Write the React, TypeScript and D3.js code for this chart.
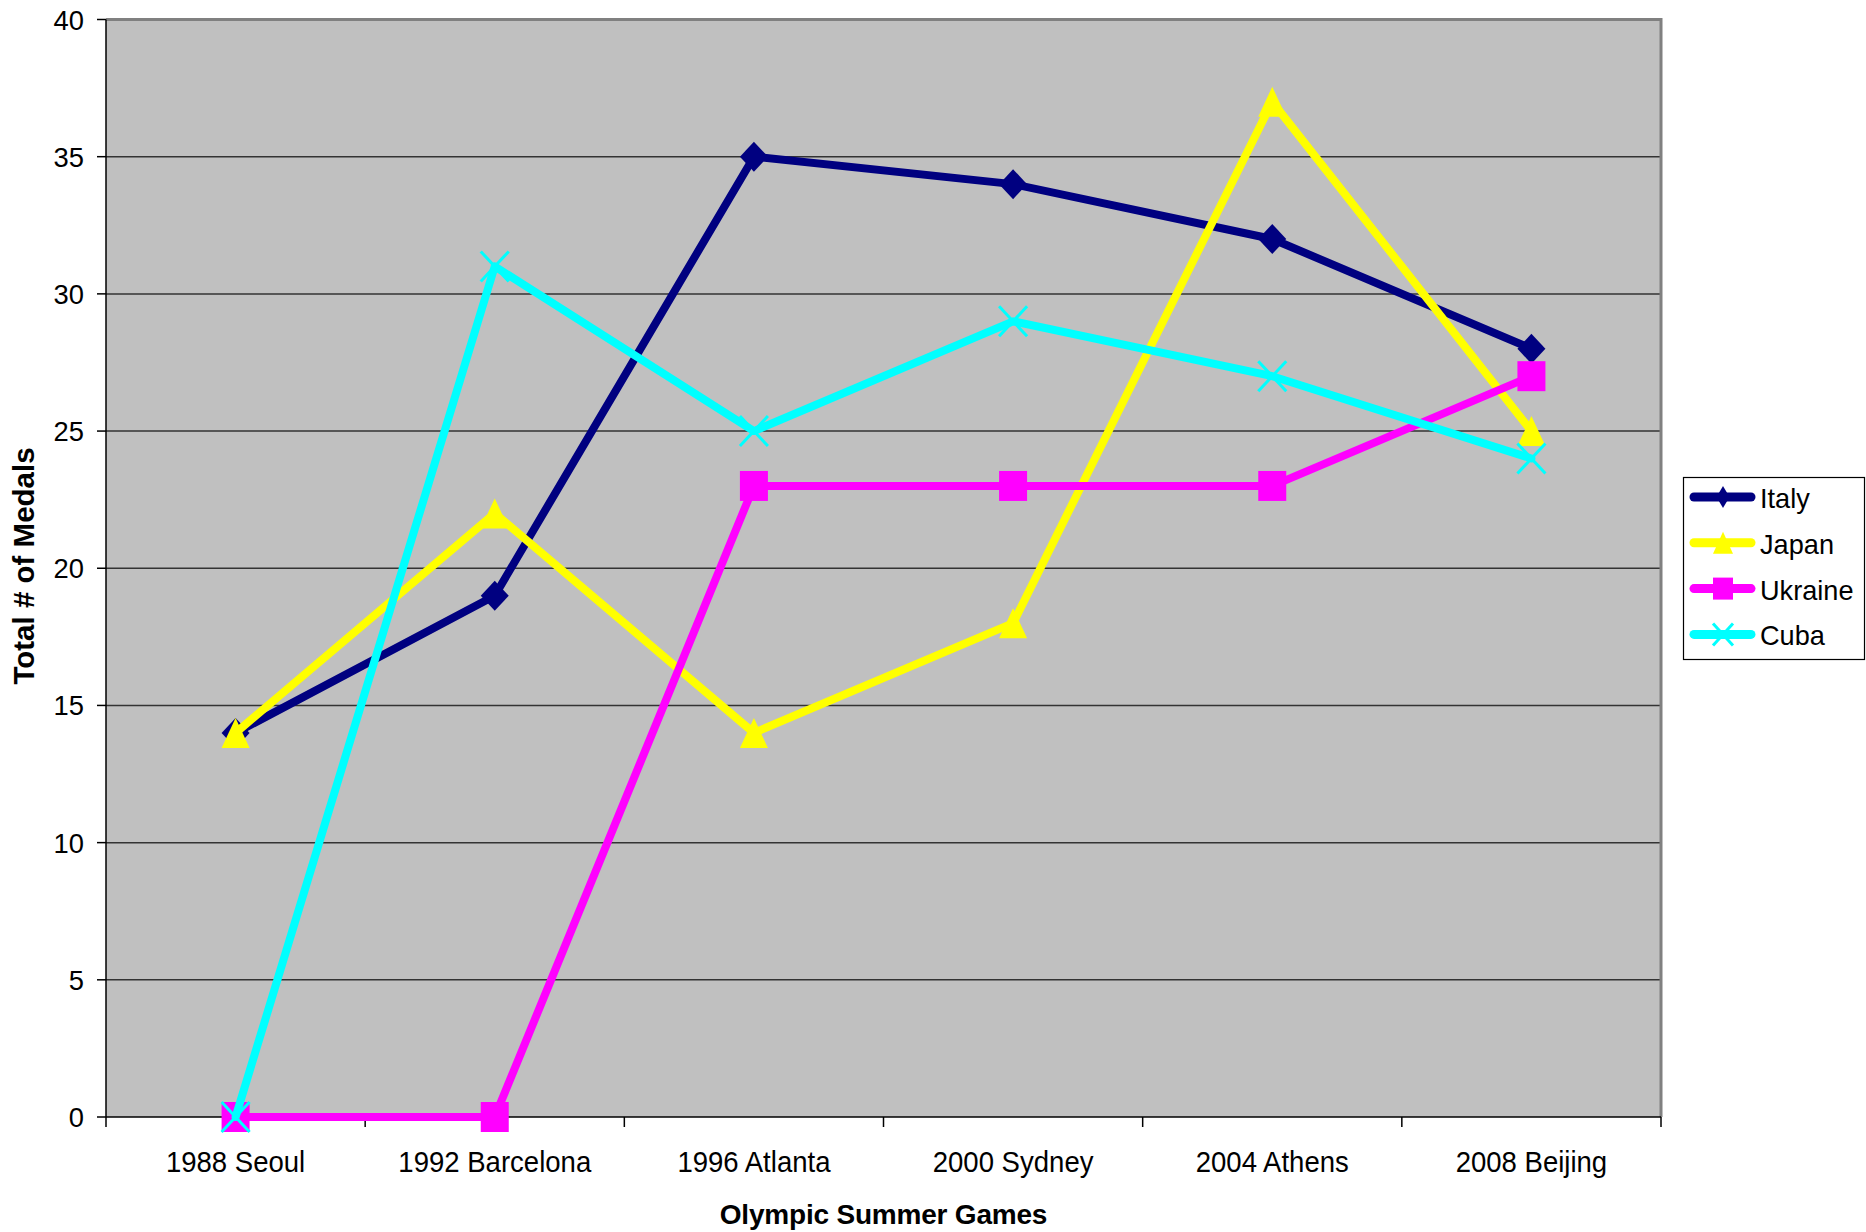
import React from "react";
import * as d3 from "d3";

const categories = ["1988 Seoul", "1992 Barcelona", "1996 Atlanta", "2000 Sydney", "2004 Athens", "2008 Beijing"];
const italy = [14, 19, 35, 34, 32, 28];
const japan = [14, 22, 14, 18, 37, 25];
const ukraine = [0, 0, 23, 23, 23, 27];
const cuba = [0, 31, 25, 29, 27, 24];
const seriesNames = ["Italy", "Japan", "Ukraine", "Cuba"];
const seriesColors = ["#000080", "#FFFF00", "#FF00FF", "#00FFFF"];
const seriesMarkers = ["diamond", "triangle", "square", "x"];
const yTicks = [0, 5, 10, 15, 20, 25, 30, 35, 40];

const W = 1866;
const H = 1232;
const left = 106;
const right = 1661;
const top = 19.5;
const bottom = 1117;
const FONT = "'Liberation Sans', Arial, sans-serif";

function Marker({ type, cx, cy, color, w, h }: { type: string; cx: number; cy: number; color: string; w: number; h: number }) {
  const hw = w / 2;
  const hh = h / 2;
  if (type === "diamond") {
    return <path d={`M${cx},${cy - hh} L${cx + hw},${cy} L${cx},${cy + hh} L${cx - hw},${cy} Z`} fill={color} />;
  }
  if (type === "triangle") {
    return <path d={`M${cx},${cy - hh} L${cx + hw},${cy + hh} L${cx - hw},${cy + hh} Z`} fill={color} />;
  }
  if (type === "square") {
    return <rect x={cx - hw} y={cy - hh} width={w} height={h} fill={color} />;
  }
  return (
    <g stroke={color} strokeWidth={3}>
      <line x1={cx - hw} y1={cy - hh} x2={cx + hw} y2={cy + hh} />
      <line x1={cx + hw} y1={cy - hh} x2={cx - hw} y2={cy + hh} />
    </g>
  );
}

export default function App() {
  const x = d3.scaleBand<string>().domain(categories).range([left, right]);
  const bw = x.bandwidth();
  const y = d3.scaleLinear().domain([0, 40]).range([bottom, top]);
  const data = [italy, japan, ukraine, cuba];
  const line = d3
    .line<number>()
    .x((_, i) => (x(categories[i]) as number) + bw / 2)
    .y((d) => y(d));
  const boundaries = categories.map((c) => x(c) as number).concat([right]);

  return (
    <svg width={W} height={H} style={{ position: "absolute", left: 0, top: 0 }} fontFamily={FONT}>
      <rect x={0} y={0} width={W} height={H} fill="#fff" />
      <rect x={left} y={top} width={right - left} height={bottom - top} fill="#C0C0C0" />
      {yTicks.filter((t) => t > 0 && t < 40).map((t) => (
        <line key={t} x1={left} x2={right} y1={y(t)} y2={y(t)} stroke="#333" strokeWidth={1.5} />
      ))}
      <line x1={left} x2={right} y1={top} y2={top} stroke="#808080" strokeWidth={3} />
      <line x1={right} x2={right} y1={top - 1.5} y2={bottom} stroke="#808080" strokeWidth={3} />
      <line x1={left} x2={left} y1={top} y2={bottom} stroke="#000" strokeWidth={1.5} />
      <line x1={left} x2={right} y1={bottom} y2={bottom} stroke="#000" strokeWidth={1.5} />
      {yTicks.map((t) => (
        <g key={t}>
          <line x1={left - 9} x2={left} y1={y(t)} y2={y(t)} stroke="#000" strokeWidth={1.5} />
          <text transform={`translate(84,${y(t) + 10}) scale(0.96,1)`} fontSize={28.5} textAnchor="end" fill="#000">
            {t}
          </text>
        </g>
      ))}
      {boundaries.map((b, i) => (
        <line key={i} x1={b} x2={b} y1={bottom} y2={bottom + 10} stroke="#000" strokeWidth={1.5} />
      ))}
      {categories.map((c) => (
        <text key={c} transform={`translate(${(x(c) as number) + bw / 2},1171.5) scale(0.95,1)`} fontSize={29} textAnchor="middle" fill="#000">
          {c}
        </text>
      ))}
      <text x={(left + right) / 2} y={1224} fontSize={28} fontWeight="bold" textAnchor="middle" letterSpacing={-0.2} fill="#000">
        Olympic Summer Games
      </text>
      <text
        transform={`translate(33.5,566) rotate(-90)`}
        fontSize={29.5}
        fontWeight="bold"
        textAnchor="middle"
        fill="#000"
      >
        Total # of Medals
      </text>
      {data.map((vals, si) => (
        <g key={si}>
          <path d={line(vals) as string} fill="none" stroke={seriesColors[si]} strokeWidth={8} strokeLinejoin="round" strokeLinecap="round" />
          {vals.map((v, i) => (
            <Marker key={i} type={seriesMarkers[si]} cx={(x(categories[i]) as number) + bw / 2} cy={y(v)} color={seriesColors[si]} w={28} h={30} />
          ))}
        </g>
      ))}
      <rect x={1683.5} y={477.5} width={181} height={182} fill="#fff" stroke="#000" strokeWidth={1.2} />
      {seriesNames.map((n, i) => {
        const cy = 497 + i * 45.8;
        return (
          <g key={n}>
            <line x1={1694} x2={1751} y1={cy} y2={cy} stroke={seriesColors[i]} strokeWidth={9} strokeLinecap="round" />
            <Marker type={seriesMarkers[i]} cx={1723} cy={cy} color={seriesColors[i]} w={i === 0 ? 13 : 20} h={22} />
            <text transform={`translate(1760,${cy + 11}) scale(0.97,1)`} fontSize={28} fill="#000">
              {n}
            </text>
          </g>
        );
      })}
    </svg>
  );
}
